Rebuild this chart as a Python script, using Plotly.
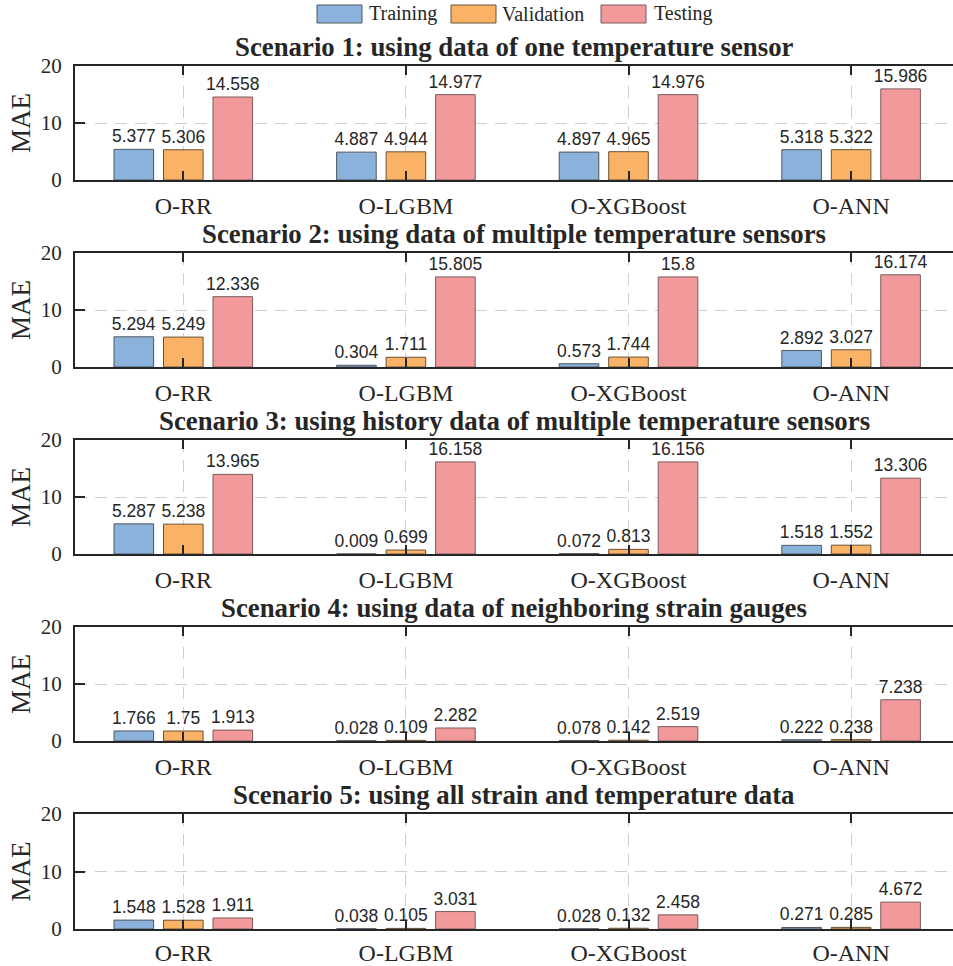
import plotly.graph_objects as go

categories = ["O-RR", "O-LGBM", "O-XGBoost", "O-ANN"]
series_names = ["Training", "Validation", "Testing"]

titles = [
    "Scenario 1: using data of one temperature sensor",
    "Scenario 2: using data of multiple temperature sensors",
    "Scenario 3: using history data of multiple temperature sensors",
    "Scenario 4: using data of neighboring strain gauges",
    "Scenario 5: using all strain and temperature data",
]

s1_training = [5.377, 4.887, 4.897, 5.318]
s1_validation = [5.306, 4.944, 4.965, 5.322]
s1_testing = [14.558, 14.977, 14.976, 15.986]

s2_training = [5.294, 0.304, 0.573, 2.892]
s2_validation = [5.249, 1.711, 1.744, 3.027]
s2_testing = [12.336, 15.805, 15.8, 16.174]

s3_training = [5.287, 0.009, 0.072, 1.518]
s3_validation = [5.238, 0.699, 0.813, 1.552]
s3_testing = [13.965, 16.158, 16.156, 13.306]

s4_training = [1.766, 0.028, 0.078, 0.222]
s4_validation = [1.75, 0.109, 0.142, 0.238]
s4_testing = [1.913, 2.282, 2.519, 7.238]

s5_training = [1.548, 0.038, 0.028, 0.271]
s5_validation = [1.528, 0.105, 0.132, 0.285]
s5_testing = [1.911, 3.031, 2.458, 4.672]

y_ticks = [0, 10, 20]

scenarios = [
    (s1_training, s1_validation, s1_testing),
    (s2_training, s2_validation, s2_testing),
    (s3_training, s3_validation, s3_testing),
    (s4_training, s4_validation, s4_testing),
    (s5_training, s5_validation, s5_testing),
]

fill_colors = ["#8BB2DA", "#FAB366", "#F29A9B"]
edge_colors = ["#4d5660", "#6a5236", "#7a5a5a"]

SERIF = "Liberation Serif, Times New Roman, serif"
SANS = "Liberation Sans, Arial, Helvetica, sans-serif"
INK = "#262626"

SHIFT = 3
W, H = 953, 966
ML, MR, MT, MB = 75, 0, 69 - SHIFT, 34 + SHIFT
plot_w = W - ML - MR
plot_h = H - MT - MB

def py(p):
    return (H - MB - p) / plot_h

def px(p):
    return (p - ML) / plot_w

tops = [t - SHIFT for t in [69, 256, 443, 630, 817]]
bottoms = [b - SHIFT for b in [183, 370, 557, 744, 932]]

unit = 222.6
first_cat_px = 183.3
x0 = -(first_cat_px - ML) / unit
x1 = x0 + plot_w / unit

fig = go.Figure()
x_idx = list(range(len(categories)))

layout = dict(
    width=W, height=H,
    margin=dict(l=ML, r=MR, t=MT, b=MB, pad=0, autoexpand=False),
    paper_bgcolor="white", plot_bgcolor="white",
    barmode="group", bargap=0.333, bargroupgap=0.2,
    showlegend=False,
    font=dict(family=SERIF, color=INK),
)

annotations = []
shapes = []

for i, vals in enumerate(scenarios):
    n = i + 1
    xa = "x" if n == 1 else f"x{n}"
    ya = "y" if n == 1 else f"y{n}"
    for j, v in enumerate(vals):
        fig.add_trace(go.Bar(
            x=x_idx, y=v, name=series_names[j],
            xaxis=xa, yaxis=ya,
            marker=dict(color=fill_colors[j], line=dict(color=edge_colors[j], width=1)),
            text=[str(t) for t in v], textposition="outside",
            textfont=dict(family=SANS, size=17.5, color=INK),
            constraintext="none", cliponaxis=False,
        ))
    layout[f"xaxis{'' if n == 1 else n}"] = dict(
        domain=[0, 1], anchor=ya, range=[x0, x1], automargin=False,
        tickmode="array", tickvals=x_idx, ticktext=categories,
        ticks="inside", ticklen=9, tickwidth=2, tickcolor=INK,
        showline=True, linewidth=2, linecolor=INK, mirror="ticks",
        showgrid=True, gridcolor="#cfcfcf", gridwidth=1.3, griddash="12px,8px",
        zeroline=False, tickfont=dict(family=SERIF, size=24, color=INK),
        ticklabelstandoff=1 if n == len(scenarios) else 3,
    )
    layout[f"yaxis{'' if n == 1 else n}"] = dict(
        domain=[py(bottoms[i]), py(tops[i])], anchor=xa, range=[0, 20], automargin=False,
        tickmode="array", tickvals=y_ticks,
        ticks="inside", ticklen=10, tickwidth=2, tickcolor=INK,
        showline=True, linewidth=2, linecolor=INK, mirror=False,
        showgrid=True, gridcolor="#cfcfcf", gridwidth=1.3, griddash="12px,8px",
        zeroline=False, tickfont=dict(family=SERIF, size=21, color=INK),
        ticklabelstandoff=7,
        title=dict(text="MAE", font=dict(family=SERIF, size=27, color=INK), standoff=2),
    )
    annotations.append(dict(
        text=f"<b>{titles[i]}</b>", xref="paper", yref="paper",
        x=0.5, y=py(tops[i]), xanchor="center", yanchor="bottom", yshift=2,
        showarrow=False, font=dict(family=SERIF, size=26.8, color=INK),
    ))

# legend
legend_boxes = [(317, 362, 367), (451, 496, 500), (601, 646, 652)]
for (bx0, bx1, tx), name, fc, ec in zip(legend_boxes, series_names, fill_colors, edge_colors):
    shapes.append(dict(type="rect", xref="paper", yref="paper",
                       x0=px(bx0), x1=px(bx1), y0=py(26 - SHIFT), y1=py(8 - SHIFT),
                       fillcolor=fc, line=dict(color=ec, width=1)))
    annotations.append(dict(text=name, xref="paper", yref="paper",
                            x=px(tx), y=py(17 - SHIFT), xanchor="left", yanchor="middle",
                            showarrow=False, font=dict(family=SERIF, size=20, color=INK)))

layout["annotations"] = annotations
layout["shapes"] = shapes
fig.update_layout(**layout)
fig.write_html("out.html")
